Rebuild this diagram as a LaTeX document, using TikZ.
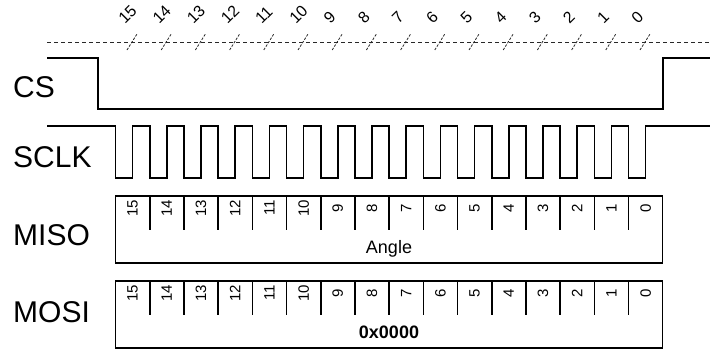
\documentclass[tikz,border=0pt]{standalone}
\usepackage{fontspec}
\setmainfont{Liberation Sans}
\usepackage{tikz}
\usetikzlibrary{positioning,calc}
\definecolor{WaveBlack}{RGB}{0,0,0}
\definecolor{GuideGray}{RGB}{40,40,40}
\tikzset{
    wave/.style={WaveBlack,line width=1.6pt,line join=miter},
    signame/.style={anchor=west,inner sep=0pt,font=\fontsize{30}{30}\selectfont},
    bitnum/.style={rotate=90,inner sep=0pt,font=\fontsize{15}{15}\selectfont},
    clknum/.style={rotate=45,anchor=base west,inner sep=0pt,font=\fontsize{16}{16}\selectfont},
}
\newcommand{\regbox}[3]{%
    \draw[wave] (115.5,#1) rectangle (662.5,{#1+67});
    \foreach \k in {1,...,15}
        \draw[wave] ({115.5+34.2*\k},#1)--({115.5+34.2*\k},{#1+34});
    \foreach \k in {0,...,15}{
        \pgfmathtruncatemacro{\bit}{15-\k}
        \node[bitnum] (#2b\bit) at ({132.6+34.2*\k},{#1+12}) {\bit};
    }
    \node[anchor=base,inner sep=0pt] (#2val) at (389,{#1+57}) {#3};
}

\begin{document}
\begin{tikzpicture}[x=1pt,y=-1pt]
            \useasboundingbox (0,0) rectangle (710,351);
            \draw[GuideGray,line width=0.9pt,dash pattern=on 4pt off 3pt] (47,42)--(710,42);
            \foreach \k in {0,...,15}{
                \pgfmathtruncatemacro{\bit}{15-\k}
                \draw[GuideGray,line width=0.8pt,dash pattern=on 2.5pt off 1.5pt] ({127+34.2*\k},50)--({137+34.2*\k},34);
                \node[clknum] (t\bit) at ({125+34.2*\k},25) {\bit};
            }
            \node[signame] (cs) at (13,87) {CS};
            \node[signame] (sclk) at (13,157) {SCLK};
            \node[signame] (miso) at (13,235) {MISO};
            \node[signame] (mosi) at (13,312) {MOSI};
            \draw[wave] (47,58)--(98,58)--(98,109)--(663,109)--(663,58)--(710,58);
            \draw[wave] (47,126)
                \foreach \k in {0,...,15}{ -- ({115.5+34.2*\k},126) -- ({115.5+34.2*\k},178) -- ({132.5+34.2*\k},178) -- ({132.5+34.2*\k},126) }
                -- (710,126);
            \regbox{196}{miso}{\fontsize{18}{18}\selectfont Angle}
            \regbox{281}{mosi}{\fontsize{18}{18}\selectfont\bfseries 0x0000}
        \end{tikzpicture}
\end{document}
